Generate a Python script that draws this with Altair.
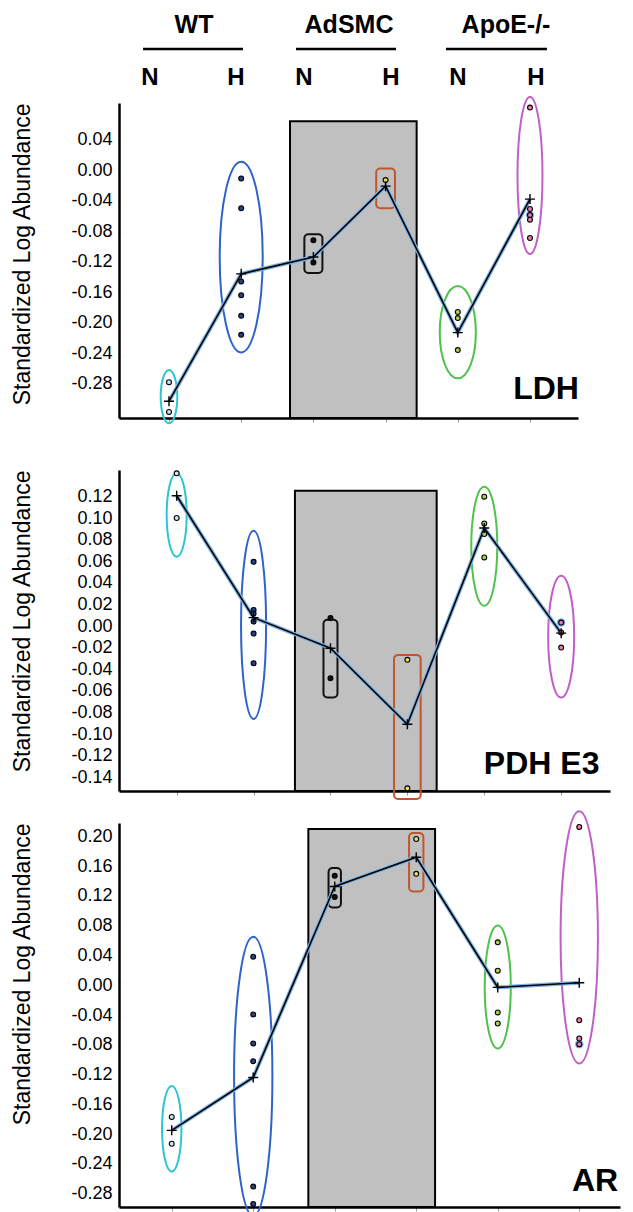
import altair as alt
import pandas as pd

FONT = "Liberation Sans"
YTITLE = "Standardized Log Abundance"

GROUPS = [0, 1, 2, 3, 4, 5]
POINT_FILL = ["#c8e8f0", "#27407e", "#111111", "#e8dc5a", "#a8d44c", "#f07aae"]
SHAPE_COLOR = ["#2cc5d2", "#2f63c9", "#111111", "#c0562c", "#4ec24a", "#c25ec8"]
SHAPE_KIND = ["ellipse", "ellipse", "rect", "rect", "ellipse", "ellipse"]
HALO_COLOR = "#72aee6"
BAND_FILL = "#c0c0c0"

# ---- header ----
HDR_GROUPS = ["WT", "AdSMC", "ApoE-/-"]
HDR_GROUP_X = [0.346, 2.493, 4.668]
HDR_RULE_X0 = [-0.36, 1.759, 3.837]
HDR_RULE_X1 = [1.025, 3.144, 5.235]
HDR_COND = ["N", "H", "N", "H", "N", "H"]
HDR_COND_X = [-0.263, 0.928, 1.870, 3.075, 4.003, 5.083]
HDR_ROWS = [0.146, 0.456, 0.823]

# ---- LDH ----
LDH_POINTS = [[-0.278, -0.317], [-0.011, -0.050, -0.146, -0.164, -0.191, -0.216],
              [-0.092, -0.121], [-0.013], [-0.186, -0.194, -0.236],
              [0.082, -0.051, -0.059, -0.065, -0.089]]
LDH_MEANS = [-0.303, -0.136, -0.114, -0.021, -0.213, -0.038]
LDH_HALO = [-0.059]
LDH_LO = [-0.332, -0.239, -0.135, -0.050, -0.273, -0.110]
LDH_HI = [-0.262, 0.011, -0.084, 0.002, -0.152, 0.096]
LDH_HW = [0.115, 0.298, 0.125, 0.13, 0.25, 0.173]
LDH_BAND = [1.676, 3.43, 0.064]
LDH_Y = [-0.325, 0.088]
LDH_X = [-0.6925, 5.665]
LDH_TICKS = [0.04, 0.0, -0.04, -0.08, -0.12, -0.16, -0.2, -0.24, -0.28]
LDH_LABEL = ["LDH", 5.222, -0.2997]

# ---- PDH E3 ----
PDH_POINTS = [[0.1413, 0.100], [0.0595, 0.015, 0.0117, 0.0042, -0.0069, -0.0343],
              [0.0074, -0.0482], [-0.0312, -0.150], [0.1197, 0.095, 0.0852, 0.0635],
              [0.0033, -0.006, -0.0198]]
PDH_MEANS = [0.1206, 0.0079, -0.0204, -0.0908, 0.0907, -0.0065]
PDH_HALO = [0.0033]
PDH_LO = [0.0642, -0.0859, -0.0661, -0.1599, 0.0188, -0.0661]
PDH_HI = [0.1413, 0.0882, 0.0058, -0.0266, 0.129, 0.0466]
PDH_HW = [0.13, 0.163, 0.091, 0.173, 0.169, 0.169]
PDH_BAND = [1.538, 3.381, 0.1253]
PDH_Y = [-0.1525, 0.1444]
PDH_X = [-0.75, 5.635]
PDH_TICKS = [0.12, 0.1, 0.08, 0.06, 0.04, 0.02, 0.0, -0.02, -0.04, -0.06, -0.08,
             -0.1, -0.12, -0.14]
PDH_LABEL = ["PDH E3", 4.746, -0.1368]

# ---- AR ----
AR_POINTS = [[-0.177, -0.213], [0.0384, -0.0392, -0.0783, -0.102, -0.2705, -0.294],
             [0.147, 0.1184], [0.1965, 0.1497], [0.0577, 0.0195, -0.0365, -0.0514],
             [0.2127, -0.047, -0.0716, -0.0792]]
AR_MEANS = [-0.195, -0.124, 0.1327, 0.172, -0.0029, 0.0033]
AR_HALO = [-0.0792]
AR_LO = [-0.2503, -0.31, 0.1044, 0.1259, -0.085, -0.1052]
AR_HI = [-0.1354, 0.0653, 0.1574, 0.2046, 0.0801, 0.2337]
AR_HW = [0.119, 0.235, 0.076, 0.088, 0.16, 0.229]
AR_BAND = [1.676, 3.231, 0.210]
AR_Y = [-0.298, 0.218]
AR_X = [-0.647, 5.50]
AR_TICKS = [0.2, 0.16, 0.12, 0.08, 0.04, 0.0, -0.04, -0.08, -0.12, -0.16, -0.2,
            -0.24, -0.28]
AR_LABEL = ["AR", 5.194, -0.276]

CROSS = "M -1 0 L 1 0 M 0 -1 L 0 1"


def ellipse_path(k):
    c = 0.5523
    kc = k * c
    return (f"M 0 -1 C {kc:.4f} -1 {k:.4f} {-c:.4f} {k:.4f} 0 "
            f"C {k:.4f} {c:.4f} {kc:.4f} 1 0 1 "
            f"C {-kc:.4f} 1 {-k:.4f} {c:.4f} {-k:.4f} 0 "
            f"C {-k:.4f} {-c:.4f} {-kc:.4f} -1 0 -1 Z")


def panel(points, means, halo, lo, hi, hw, band, ydom, xdom, ticks, label, width, height):
    xs = alt.Scale(domain=xdom, nice=False, zero=False)
    ys = alt.Scale(domain=ydom, nice=False, zero=False)
    xaxis = alt.Axis(values=GROUPS, labels=False, title=None, ticks=True, tickSize=4,
                     tickColor="#9a9a9a", tickWidth=1, domainColor="black",
                     domainWidth=2.5, grid=False)
    yaxis = alt.Axis(values=ticks, title=YTITLE, titleAnchor="end", titleFont=FONT,
                     titleFontSize=23, titleFontWeight="normal", titleColor="black",
                     titlePadding=36, labelFont=FONT, labelFontSize=18, labelColor="black",
                     labelPadding=7, labelOverlap=False, labelFlush=False,
                     labelExpr="replace(format(datum.value, '.2f'), '\u2212', '-')",
                     ticks=False, domainColor="black", domainWidth=2.5, grid=False)

    def X(f):
        return alt.X(f"{f}:Q", scale=xs, axis=xaxis)

    def Y(f):
        return alt.Y(f"{f}:Q", scale=ys, axis=yaxis)

    ppx = width / (xdom[1] - xdom[0])
    ppy = height / (ydom[1] - ydom[0])

    pts = pd.DataFrame([{"g": g, "v": v, "fill": POINT_FILL[g]}
                        for g, vals in enumerate(points) for v in vals])
    mdf = pd.DataFrame({"g": GROUPS, "v": means})
    hdf = pd.DataFrame({"g": [5] * len(halo), "v": halo})
    bdf = pd.DataFrame({"x0": [band[0]], "x1": [band[1]], "top": [band[2]], "bot": [ydom[0]]})
    ell, rec = [], []
    for g in GROUPS:
        if SHAPE_KIND[g] == "ellipse":
            a = hw[g] * ppx
            b = (hi[g] - lo[g]) / 2 * ppy
            ell.append({"g": g, "v": (hi[g] + lo[g]) / 2, "path": ellipse_path(a / b),
                        "size": (2 * b) ** 2, "col": SHAPE_COLOR[g]})
        else:
            rec.append({"x0": g - hw[g], "x1": g + hw[g], "lo": lo[g], "hi": hi[g],
                        "col": SHAPE_COLOR[g]})
    edf = pd.DataFrame(ell)
    rdf = pd.DataFrame(rec)
    ldf = pd.DataFrame({"t": [label[0]], "x": [label[1]], "y": [label[2]]})

    band_l = alt.Chart(bdf).mark_rect(fill=BAND_FILL, stroke="black", strokeWidth=2).encode(
        x=X("x0"), x2="x1", y=Y("top"), y2="bot")
    ell_l = alt.Chart(edf).mark_point(filled=False, strokeWidth=2, opacity=1).encode(
        x=X("g"), y=Y("v"), shape=alt.Shape("path:N", scale=None),
        size=alt.Size("size:Q", scale=None), stroke=alt.Stroke("col:N", scale=None))
    rect_l = alt.Chart(rdf).mark_rect(fill="white", fillOpacity=0, strokeWidth=2,
                                       cornerRadius=4).encode(
        x=X("x0"), x2="x1", y=Y("hi"), y2="lo", stroke=alt.Stroke("col:N", scale=None))
    line_b = alt.Chart(mdf).mark_line(color="#7fb4e4", strokeWidth=4).encode(x=X("g"), y=Y("v"))
    line_k = alt.Chart(mdf).mark_line(color="black", strokeWidth=1.6).encode(x=X("g"), y=Y("v"))
    halo_l = alt.Chart(hdf).mark_circle(color=HALO_COLOR, size=70, opacity=1).encode(
        x=X("g"), y=Y("v"))
    pts_l = alt.Chart(pts).mark_point(shape="circle", filled=True, size=24, stroke="black",
                                      strokeWidth=1.1, opacity=1).encode(
        x=X("g"), y=Y("v"), fill=alt.Fill("fill:N", scale=None))
    mean_l = alt.Chart(mdf).mark_point(shape=CROSS, filled=False, size=100, color="black",
                                       strokeWidth=1.4, opacity=1).encode(x=X("g"), y=Y("v"))
    lab_l = alt.Chart(ldf).mark_text(font=FONT, fontSize=32, fontWeight="bold",
                                     align="center", baseline="alphabetic",
                                     color="black").encode(
        x=X("x"), y=Y("y"), text="t:N")
    return alt.layer(band_l, ell_l, rect_l, line_b, line_k, halo_l, pts_l, mean_l,
                     lab_l).properties(width=width, height=height)


# header
hx = alt.Scale(domain=LDH_X, nice=False, zero=False)
hy = alt.Scale(domain=[0, 1], reverse=True, nice=False, zero=False)
hg = pd.DataFrame({"x": HDR_GROUP_X, "y": [HDR_ROWS[0]] * 3, "t": HDR_GROUPS})
hr = pd.DataFrame({"x0": HDR_RULE_X0, "x1": HDR_RULE_X1, "y": [HDR_ROWS[1]] * 3})
hc = pd.DataFrame({"x": HDR_COND_X, "y": [HDR_ROWS[2]] * 6, "t": HDR_COND})
header = alt.layer(
    alt.Chart(hg).mark_text(font=FONT, fontSize=25, fontWeight="bold", baseline="middle",
                            align="center", color="black").encode(
        x=alt.X("x:Q", scale=hx, axis=None), y=alt.Y("y:Q", scale=hy, axis=None), text="t:N"),
    alt.Chart(hr).mark_rule(color="black", strokeWidth=2.5).encode(
        x=alt.X("x0:Q", scale=hx, axis=None), x2="x1", y=alt.Y("y:Q", scale=hy, axis=None)),
    alt.Chart(hc).mark_text(font=FONT, fontSize=24, fontWeight="bold", baseline="middle",
                            align="center", color="black").encode(
        x=alt.X("x:Q", scale=hx, axis=None), y=alt.Y("y:Q", scale=hy, axis=None), text="t:N"),
).properties(width=459, height=79)

p1 = panel(LDH_POINTS, LDH_MEANS, LDH_HALO, LDH_LO, LDH_HI, LDH_HW, LDH_BAND, LDH_Y, LDH_X,
           LDH_TICKS, LDH_LABEL, 459, 315)
p2 = panel(PDH_POINTS, PDH_MEANS, PDH_HALO, PDH_LO, PDH_HI, PDH_HW, PDH_BAND, PDH_Y, PDH_X,
           PDH_TICKS, PDH_LABEL, 491, 321)
p3 = panel(AR_POINTS, AR_MEANS, AR_HALO, AR_LO, AR_HI, AR_HW, AR_BAND, AR_Y, AR_X,
           AR_TICKS, AR_LABEL, 501, 384)

top = alt.vconcat(header, p1, spacing=0)
bottom = alt.vconcat(p2, p3, spacing=6)
chart = alt.vconcat(top, bottom, spacing=40).properties(
    padding={"left": 3, "top": 4, "right": 5, "bottom": 0}
).configure(font=FONT).configure_view(stroke="transparent", strokeWidth=0)

chart.save("out.html", embed_options={"renderer": "svg", "actions": False})
